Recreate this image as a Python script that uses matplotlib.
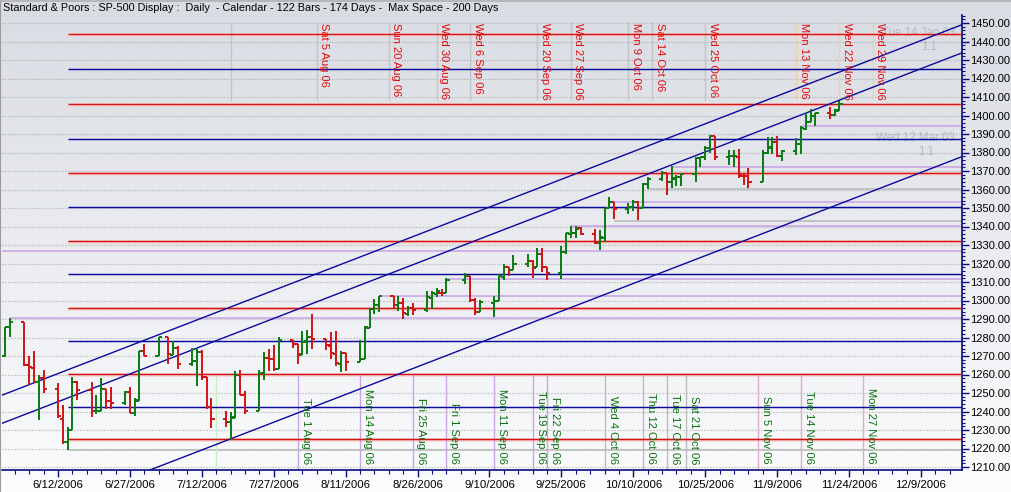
import matplotlib
matplotlib.use("Agg")
import matplotlib.pyplot as plt
import matplotlib.dates as mdates
from matplotlib.lines import Line2D
from matplotlib.ticker import FixedLocator, MultipleLocator, FormatStrFormatter, FuncFormatter
import numpy as np
import pandas as pd

plt.rcParams['font.family'] = ['Liberation Sans', 'DejaVu Sans']

# ---------------- data ----------------
title = ("Standard & Poors : SP-500 Display :  Daily  - Calendar - 122 Bars - "
         "174 Days -  Max Space - 200 Days")

holidays = ['2006-07-04', '2006-09-04']
bar_dates = [d for d in pd.bdate_range('2006-06-01', '2006-11-22')
             if d.strftime('%Y-%m-%d') not in holidays]

opens = [1270.05, 1285.71, 1288.16, 1265.23, 1263.61, 1256.08, 1257.93, 1252.27, 1236.08, 1223.66,
         1230.01, 1256.16, 1251.54, 1240.12, 1240.09, 1251.92, 1245.59, 1244.50, 1250.55, 1238.99,
         1245.94, 1272.86, 1270.06, 1280.05, 1270.58, 1274.08, 1265.46, 1267.26, 1272.39, 1258.58,
         1242.29, 1236.20, 1234.48, 1236.74, 1259.81, 1249.12, 1240.25, 1260.91, 1268.87, 1268.20,
         1263.15, 1278.53, 1276.66, 1270.73, 1278.22, 1280.26, 1279.31, 1275.67, 1271.13, 1265.72,
         1271.64, 1266.67, 1268.19, 1285.27, 1295.37, 1297.48, 1302.30, 1297.52, 1298.73, 1292.97,
         1295.92, 1295.09, 1301.57, 1303.70, 1304.25, 1303.80, 1310.94, 1313.04, 1300.21, 1294.02,
         1298.86, 1299.53, 1312.74, 1318.00, 1316.28, 1319.85, 1321.17, 1318.28, 1324.89, 1318.03,
         1314.78, 1326.35, 1336.12, 1336.56, 1339.15, 1335.82, 1331.32, 1333.81, 1349.84, 1353.22,
         1349.58, 1350.62, 1353.28, 1349.94, 1362.82, 1365.61, 1369.05, 1363.93, 1365.95, 1366.94,
         1368.58, 1377.02, 1377.36, 1382.21, 1388.89, 1377.30, 1377.93, 1377.76, 1367.44, 1367.31,
         1364.27, 1379.75, 1382.50, 1385.43, 1378.33, 1380.58, 1384.36, 1392.91, 1396.53, 1399.76,
         1401.17, 1400.43, 1402.69]
highs = [1285.71, 1290.68, 1288.16, 1269.88, 1272.47, 1259.85, 1262.58, 1255.22, 1243.37, 1231.46,
         1258.64, 1256.27, 1255.93, 1249.01, 1257.96, 1251.92, 1253.13, 1250.92, 1253.37, 1247.06,
         1272.88, 1276.30, 1280.38, 1280.05, 1278.32, 1275.38, 1274.06, 1273.64, 1273.31, 1258.58,
         1247.12, 1240.07, 1239.86, 1261.81, 1262.56, 1250.96, 1262.50, 1272.39, 1273.89, 1275.85,
         1280.42, 1278.66, 1276.66, 1283.42, 1283.96, 1292.92, 1279.31, 1282.75, 1283.74, 1272.55,
         1271.64, 1278.90, 1286.23, 1296.21, 1300.78, 1302.30, 1302.30, 1302.49, 1301.50, 1297.23,
         1298.88, 1305.02, 1305.02, 1306.74, 1306.11, 1312.03, 1314.67, 1313.04, 1301.25, 1300.14,
         1302.36, 1314.28, 1319.92, 1318.00, 1324.65, 1324.87, 1322.04, 1328.53, 1328.19, 1318.03,
         1329.35, 1336.60, 1340.08, 1340.28, 1339.88, 1338.54, 1338.31, 1350.20, 1355.79, 1353.22,
         1352.69, 1354.23, 1353.97, 1363.76, 1366.63, 1370.20, 1369.05, 1372.87, 1368.09, 1368.66,
         1377.40, 1377.78, 1383.61, 1389.45, 1388.89, 1381.22, 1381.21, 1381.95, 1368.39, 1371.68,
         1381.40, 1388.19, 1388.61, 1388.92, 1381.47, 1387.61, 1394.49, 1401.35, 1403.76, 1401.21,
         1404.37, 1403.49, 1407.89]
lows = [1269.19, 1280.22, 1264.66, 1254.46, 1255.77, 1235.18, 1250.03, 1236.43, 1222.52, 1219.29,
        1230.01, 1246.33, 1237.17, 1238.87, 1240.09, 1241.53, 1241.43, 1243.68, 1238.94, 1237.59,
        1245.94, 1270.20, 1270.06, 1265.91, 1270.58, 1263.13, 1264.46, 1253.72, 1257.29, 1241.43,
        1231.09, 1231.49, 1224.54, 1236.74, 1249.13, 1238.72, 1240.25, 1257.19, 1261.94, 1261.92,
        1263.15, 1274.31, 1265.71, 1270.73, 1271.25, 1273.82, 1273.00, 1268.37, 1264.73, 1261.30,
        1262.08, 1266.67, 1268.19, 1285.27, 1292.71, 1293.57, 1295.51, 1294.44, 1289.82, 1291.40,
        1292.39, 1293.97, 1295.29, 1302.15, 1302.45, 1303.80, 1308.82, 1299.28, 1292.13, 1294.02,
        1290.93, 1299.53, 1311.12, 1313.25, 1316.28, 1318.16, 1312.17, 1318.28, 1315.45, 1310.94,
        1311.58, 1325.30, 1333.54, 1333.75, 1335.64, 1330.28, 1327.10, 1331.48, 1349.84, 1344.21,
        1346.55, 1348.60, 1343.57, 1349.94, 1360.50, 1364.48, 1356.87, 1360.95, 1362.06, 1362.10,
        1363.94, 1372.42, 1376.00, 1379.47, 1375.85, 1373.46, 1372.19, 1366.26, 1362.21, 1360.98,
        1364.27, 1379.19, 1379.33, 1377.31, 1375.60, 1378.80, 1379.07, 1392.13, 1396.53, 1394.55,
        1397.85, 1399.99, 1402.26]
closes = [1285.71, 1288.22, 1265.29, 1263.85, 1256.15, 1257.93, 1252.30, 1237.44, 1223.69, 1230.04,
          1256.16, 1251.54, 1240.13, 1240.12, 1252.20, 1245.60, 1244.50, 1250.56, 1239.20, 1246.00,
          1272.87, 1270.20, 1280.19, 1270.91, 1274.08, 1265.48, 1267.34, 1272.43, 1258.60, 1242.29,
          1236.20, 1234.49, 1236.86, 1259.81, 1249.13, 1240.29, 1260.91, 1268.88, 1268.40, 1263.20,
          1278.55, 1276.66, 1270.92, 1277.41, 1280.27, 1279.36, 1275.77, 1271.48, 1265.95, 1271.81,
          1266.74, 1268.21, 1285.58, 1295.43, 1297.48, 1302.30, 1297.52, 1298.82, 1292.99, 1296.06,
          1295.09, 1301.78, 1304.28, 1305.37, 1303.82, 1311.01, 1313.25, 1300.26, 1294.02, 1298.92,
          1299.54, 1313.00, 1318.07, 1316.28, 1319.66, 1321.18, 1317.64, 1325.18, 1318.03, 1314.78,
          1326.37, 1336.35, 1336.59, 1338.88, 1335.85, 1331.32, 1334.11, 1350.20, 1353.22, 1349.59,
          1350.66, 1353.42, 1349.95, 1362.83, 1365.62, 1369.06, 1364.05, 1365.80, 1366.96, 1368.60,
          1377.02, 1377.38, 1382.22, 1389.08, 1377.34, 1377.93, 1377.94, 1367.81, 1367.34, 1364.30,
          1379.78, 1382.84, 1385.72, 1378.33, 1380.90, 1384.42, 1393.22, 1396.57, 1399.76, 1401.20,
          1400.50, 1402.81, 1406.09]

# square-root price levels anchored at the 14 Jun low (red / blue alternate)
level_start = '2006-06-14'
level_prices = [1225.00, 1242.56, 1260.25, 1278.06, 1296.00, 1314.06, 1332.25,
                1350.56, 1369.00, 1387.56, 1406.25, 1425.06, 1444.00]

# horizontal support / resistance lines: start date, price, kind
sr_dates = ['2006-05-08', '2006-06-02', '2006-06-14', '2006-08-18', '2006-09-01',
            '2006-09-27', '2006-10-05', '2006-10-06', '2006-10-13', '2006-10-18', '2006-11-14']
sr_prices = [1326.70, 1290.68, 1219.29, 1302.30, 1311.50,
             1340.08, 1353.50, 1343.00, 1360.20, 1372.20, 1394.49]
sr_kinds = ['high', 'high', 'low', 'high', 'high',
            'high', 'high', 'low', 'low', 'high', 'high']

# 1:1 angle lines (price on 12 Jun 2006, one point per calendar day)
angle_ref_date = '2006-06-12'
angle_prices = [1260.5, 1245.3, 1189.2]

# faint angle-line labels (text, price level where shown)
angle_label_text = ['Tue 14 Jan 03', '1:1', 'Wed 12 Mar 03', '1:1']
angle_label_price = [1444.6, 1437.0, 1387.8, 1380.2]
angle_label_inset = [7, 25, 7, 28]   # px from right axis (placement)

# time projections (top, red labels)
top_dates = ['2006-07-18', '2006-08-05', '2006-08-20', '2006-08-30', '2006-09-06', '2006-09-20',
             '2006-09-27', '2006-10-09', '2006-10-14', '2006-10-25', '2006-11-13',
             '2006-11-22', '2006-11-29']
top_labels = ['', 'Sat 5 Aug 06', 'Sun 20 Aug 06', 'Wed 30 Aug 06', 'Wed 6 Sep 06',
              'Wed 20 Sep 06', 'Wed 27 Sep 06', 'Mon 9 Oct 06', 'Sat 14 Oct 06',
              'Wed 25 Oct 06', 'Mon 13 Nov 06', 'Wed 22 Nov 06', 'Wed 29 Nov 06']
top_kinds = ['a', 'a', 'a', 'a', 'a', 'a', 'a', 'a', 'a', 'a', 'b', 'b', 'b']

# time projections (bottom, green labels)
bot_dates = ['2006-07-15', '2006-08-01', '2006-08-14', '2006-08-25', '2006-09-01', '2006-09-11',
             '2006-09-19', '2006-09-22', '2006-10-04', '2006-10-12', '2006-10-17',
             '2006-10-21', '2006-11-05', '2006-11-14', '2006-11-27']
bot_labels = ['', 'Tue 1 Aug 06', 'Mon 14 Aug 06', 'Fri 25 Aug 06', 'Fri 1 Sep 06',
              'Mon 11 Sep 06', 'Tue 19 Sep 06', 'Fri 22 Sep 06', 'Wed 4 Oct 06',
              'Thu 12 Oct 06', 'Tue 17 Oct 06', 'Sat 21 Oct 06', 'Sun 5 Nov 06',
              'Tue 14 Nov 06', 'Mon 27 Nov 06']
bot_kinds = ['g', 'p', 'p', 'p', 'p', 'p', 'p', 'p', 'n', 'n', 'n', 'n', 'k', 'k', 'k']

# ---------------- layout ----------------
W, H = 1012, 492
PX_DAY = 4.794          # pixels per calendar day
PX_PT = 1.85            # pixels per index point
ref_num = mdates.date2num(pd.Timestamp('2006-06-12'))
ref_px = 58.0
ax_left_px, ax_right_px = 2.0, 962.0
ax_top_px, ax_bot_px = 15.0, 470.0
y1450_px = 23.0

xmin = ref_num - (ref_px - ax_left_px) / PX_DAY
xmax = ref_num + (ax_right_px - ref_px) / PX_DAY
ymax = 1450 + (y1450_px - ax_top_px) / PX_PT
ymin = 1450 - (ax_bot_px - y1450_px) / PX_PT

def px_to_price(py):
    return 1450 - (py - y1450_px) / PX_PT

fig = plt.figure(figsize=(W / 100, H / 100), dpi=100)

# gradient background
bg = fig.add_axes([0, 0, 1, 1], zorder=-10)
t = np.linspace(0, 1, 256)[:, None, None]
c_top = np.array([0.850, 0.862, 0.888])
c_bot = np.array([0.985, 0.988, 0.993])
bg.imshow(c_top + (c_bot - c_top) * t, aspect='auto', extent=[0, 1, 0, 1])
bg.set_axis_off()
fig.add_artist(Line2D([0.5 / W, 0.5 / W], [0, 1], color='#9a9a9a', lw=1.5))
fig.add_artist(Line2D([0, 1], [1 - 0.5 / H, 1 - 0.5 / H], color='#b0b0b0', lw=1.2))

ax = fig.add_axes([ax_left_px / W, 1 - ax_bot_px / H,
                   (ax_right_px - ax_left_px) / W, (ax_bot_px - ax_top_px) / H])
ax.patch.set_alpha(0)
ax.set_xlim(xmin, xmax)
ax.set_ylim(ymin, ymax)

# grid
for v in np.arange(1210, 1451, 10):
    ax.axhline(v, color='#a4a4a4', lw=0.9, ls=(0, (0.8, 1.6)), zorder=1)

RED = '#d21414'
BLUE = '#0a0a9c'
GREEN = '#0b7a12'
PURPLE = '#c7a2e6'
GRAY = '#b8b8b8'

# square levels
ls_num = mdates.date2num(pd.Timestamp(level_start))
for i, p in enumerate(level_prices):
    if i % 2 == 0:
        ax.hlines(p - 0.55, ls_num, xmax, color='#f7d2d2', lw=2.6, zorder=2)
        ax.hlines(p, ls_num, xmax, color=RED, lw=1.05, zorder=3)
    else:
        ax.hlines(p, ls_num, xmax, color=BLUE, lw=1.05, zorder=3)

# support / resistance lines
for d, p, k in zip(sr_dates, sr_prices, sr_kinds):
    ax.hlines(p, mdates.date2num(pd.Timestamp(d)), xmax,
              color=PURPLE if k == 'high' else GRAY, lw=1.1, zorder=2)

# 1:1 angle lines
xs = np.array([xmin, xmax])
ar = mdates.date2num(pd.Timestamp(angle_ref_date))
for p in angle_prices:
    ax.plot(xs, p + (xs - ar), color=BLUE, lw=1.0, zorder=4)

# angle labels (faint)
faint = '#b3b9c5'
for lab, p, ins in zip(angle_label_text, angle_label_price, angle_label_inset):
    ax.text(xmax - ins / PX_DAY, p, lab, color=faint, fontsize=8.3,
            ha='right', va='center', zorder=2.5)

# vertical projection lines - top
top_col = {'a': '#c4c4c4', 'b': '#f4cfa6'}
y_top_a, y_top_b = px_to_price(22), px_to_price(100)
for d, lab, k in zip(top_dates, top_labels, top_kinds):
    xn = mdates.date2num(pd.Timestamp(d))
    ax.vlines(xn, y_top_b, y_top_a, color=top_col[k], lw=1.0, zorder=2)
    if lab:
        ax.text(xn + 2.5 / PX_DAY, px_to_price(23.0), lab, rotation=270, color='#e00a0a',
                fontsize=8.0, ha='left', va='top', zorder=6)

# vertical projection lines - bottom
bot_col = {'g': '#c8eec8', 'p': '#c9a6e2', 'n': '#bcbcbc', 'k': '#e8a8cc'}
y_bot_a = px_to_price(375)
for d, lab, k in zip(bot_dates, bot_labels, bot_kinds):
    xn = mdates.date2num(pd.Timestamp(d))
    ax.vlines(xn, ymin, y_bot_a, color=bot_col[k], lw=1.0, zorder=2)
    if lab:
        ax.text(xn + 3 / PX_DAY, px_to_price(464), lab, rotation=270, color='#0a7010',
                fontsize=8.0, ha='left', va='bottom', zorder=6)

# OHLC bars
bx = mdates.date2num(pd.DatetimeIndex(bar_dates).to_pydatetime())
tick = 3.2 / PX_DAY
for x, o, h, l, c in zip(bx, opens, highs, lows, closes):
    col = GREEN if c >= o else RED
    ax.vlines(x, l, h, color=col, lw=1.4, zorder=7)
    ax.hlines(o, x - tick, x, color=col, lw=1.4, zorder=7)
    ax.hlines(c, x, x + tick, color=col, lw=1.4, zorder=7)

# axes styling
for s in ['left', 'top']:
    ax.spines[s].set_visible(False)
for s in ['right', 'bottom']:
    ax.spines[s].set_color('#0a0a80')
    ax.spines[s].set_linewidth(1.2)

ax.yaxis.tick_right()
ax.yaxis.set_major_locator(MultipleLocator(10))
ax.yaxis.set_minor_locator(MultipleLocator(2))
ax.yaxis.set_major_formatter(FormatStrFormatter('%.2f'))
ax.tick_params(axis='y', which='major', length=5, width=1, color='#0a0a80',
               labelsize=8.0, pad=1, labelcolor='black')
ax.tick_params(axis='y', which='minor', length=2.5, width=0.8, color='#0a0a80')

major_x = [ref_num + 15 * k for k in range(-1, 13)]
minor_x = [ref_num + 3 * k for k in range(-4, 64)]
ax.xaxis.set_major_locator(FixedLocator(major_x))
ax.xaxis.set_minor_locator(FixedLocator(minor_x))
ax.xaxis.set_major_formatter(FuncFormatter(
    lambda v, pos: (lambda d: f"{d.month}/{d.day}/{d.year}")(mdates.num2date(v))))
ax.tick_params(axis='x', which='major', length=5, width=1, color='#0a0a80',
               labelsize=8.2, pad=2, labelcolor='black')
ax.tick_params(axis='x', which='minor', length=3, width=0.8, color='#0a0a80')

fig.text(3 / W, 1 - 8 / H, title, ha='left', va='center', fontsize=7.8, color='black')

fig.savefig('out.png', dpi=100)
